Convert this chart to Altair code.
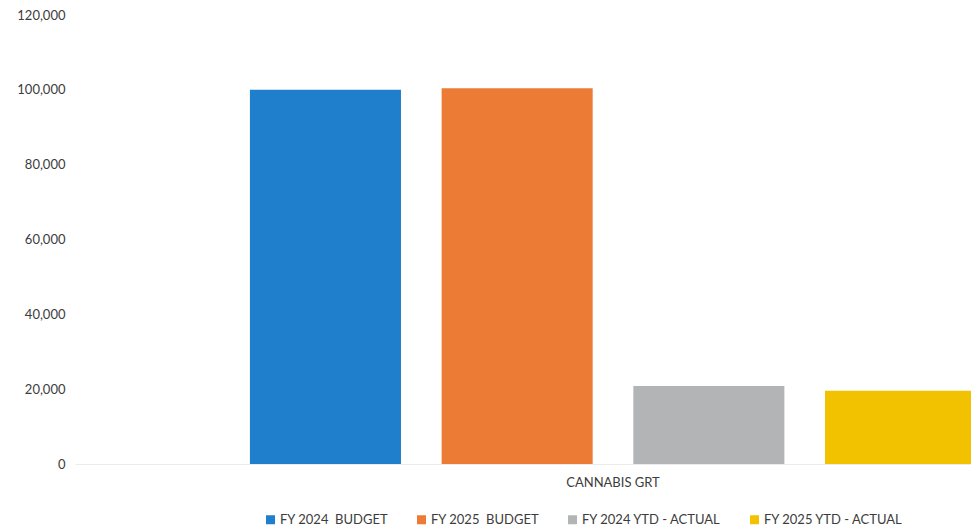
import altair as alt
import pandas as pd

category = ["CANNABIS GRT"] * 4
series = ["FY 2024\u00a0 BUDGET", "FY 2025\u00a0 BUDGET", "FY 2024 YTD - ACTUAL", "FY 2025 YTD - ACTUAL"]
values = [100000, 100400, 20850, 19600]
colors = ["#1f7fcc", "#eb7b35", "#b2b4b6", "#f2c100"]

df = pd.DataFrame({"category": category, "series": series, "value": values})

FONT = "Lato"
TXT = "#3c3c3c"

chart = alt.Chart(df).mark_bar(clip=True).encode(
    x=alt.X("category:N",
            scale=alt.Scale(range=[0, 1076], paddingInner=0, paddingOuter=0),
            axis=alt.Axis(title=None, labelAngle=0, ticks=False, domain=True,
                          domainColor="#ececec", labelPadding=12,
                          labelFont=FONT, labelFontSize=13, labelColor=TXT)),
    xOffset=alt.XOffset("series:N", sort=series,
                        scale=alt.Scale(paddingInner=0.212, paddingOuter=0.9125)),
    y=alt.Y("value:Q",
            scale=alt.Scale(domain=[0, 120000], nice=False),
            axis=alt.Axis(title=None, values=[0, 20000, 40000, 60000, 80000, 100000, 120000],
                          format=",.0f", grid=False, domain=False, ticks=False,
                          labelPadding=10, labelFont=FONT, labelFontSize=13,
                          labelColor=TXT)),
    color=alt.Color("series:N", sort=series,
                    scale=alt.Scale(domain=series, range=colors),
                    legend=alt.Legend(title=None, orient="none", direction="horizontal",
                                      legendX=189, legendY=498, padding=0,
                                      symbolType="square", symbolSize=81,
                                      symbolStrokeWidth=0, columnPadding=26,
                                      labelOffset=3, labelFont=FONT, labelFontSize=13,
                                      labelColor=TXT, labelLimit=300)),
).properties(
    width=896,
    height=449,
    background="white",
    autosize=alt.AutoSizeParams(type="none"),
    padding={"left": 75, "top": 15, "right": 0, "bottom": 67},
).configure_view(strokeWidth=0, stroke="transparent")

chart.save("out.html", embed_options={"renderer": "svg", "actions": False})
